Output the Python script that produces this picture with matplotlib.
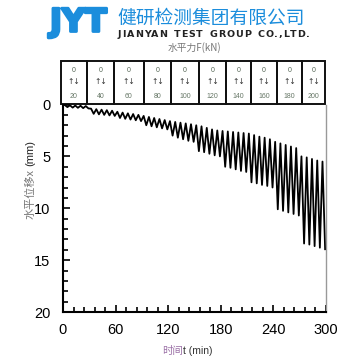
import numpy as np
import matplotlib.pyplot as plt
import matplotlib.patheffects as pe
from matplotlib.patches import Rectangle

plt.rcParams['font.family'] = ['Liberation Sans', 'Noto Sans CJK SC', 'DejaVu Sans']

# 荷载分级 (kN)
loads = [20, 40, 60, 80, 100, 120, 140, 160, 180, 200]

# 每级 5 个循环, 每个循环 6 min
cycle_min = 6
# 每个循环的最小位移 (mm)
x_top = [0.05, 0.08, 0.10, 0.12, 0.15,
         0.40, 0.45, 0.50, 0.55, 0.60,
         0.70, 0.78, 0.85, 0.92, 1.00,
         1.10, 1.20, 1.30, 1.40, 1.50,
         1.60, 1.68, 1.75, 1.82, 1.90,
         2.00, 2.10, 2.25, 2.40, 2.50,
         2.55, 2.60, 2.65, 2.70, 2.75,
         2.80, 2.95, 3.10, 3.20, 3.35,
         3.60, 3.75, 3.90, 4.05, 4.20,
         5.00, 5.10, 5.25, 5.40, 5.50]
# 每个循环的最大位移 (mm)
x_bot = [0.25, 0.30, 0.32, 0.35, 0.38,
         0.90, 0.95, 1.00, 1.05, 1.10,
         1.30, 1.38, 1.45, 1.52, 1.60,
         2.00, 2.10, 2.20, 2.30, 2.40,
         3.00, 3.20, 3.35, 3.50, 3.60,
         4.50, 4.60, 4.75, 4.90, 5.00,
         6.00, 6.10, 6.25, 6.40, 6.50,
         7.50, 7.60, 7.75, 7.85, 8.00,
         10.10, 10.25, 10.40, 10.55, 10.70,
         13.40, 13.50, 13.65, 13.80, 13.95]

# 拼成折线
t = [0.0]
x = [0.0]
for i in range(len(x_top)):
    t += [i * cycle_min + 2, i * cycle_min + 5]
    x += [x_top[i], x_bot[i]]

W = 360.0
def fx(px): return px / W
def fy(py): return 1 - py / W

fig = plt.figure(figsize=(3.6, 3.6), dpi=100)
renderer = fig.canvas.get_renderer()

def spaced_text(px0, px1, py, s, **kw):
    # 逐字放置, 拉开字距
    widths = []
    for ch in s:
        tt = fig.text(0, 0, ch, **kw)
        widths.append(tt.get_window_extent(renderer).width if ch != ' ' else 0)
        tt.remove()
    sp_w = widths[s.index('N')] * 0.6
    widths = [w if ch != ' ' else sp_w for w, ch in zip(widths, s)]
    gap = (px1 - px0 - sum(widths)) / (len(s) - 1)
    cur = px0
    for ch, w in zip(s, widths):
        if ch != ' ':
            fig.text(fx(cur), fy(py), ch, ha='left', va='center', **kw)
        cur += w + gap

# logo
blue = '#1b8ddc'
fig.text(fx(50), fy(23), 'JYT', color=blue, fontsize=23, fontweight='bold',
         ha='left', va='center', family='DejaVu Sans',
         path_effects=[pe.withStroke(linewidth=2, foreground=blue)])
fig.text(fx(117), fy(18), '健研检测集团有限公司', color=blue, fontsize=13.5,
         ha='left', va='center', family='Noto Sans CJK SC')
spaced_text(118, 310, 34.5, 'JIANYAN TEST GROUP CO.,LTD.', color='#222222',
            fontsize=6.8, fontweight='bold', family='DejaVu Sans')

fig.text(fx(194), fy(48), '水平力F(kN)', color='#777777', fontsize=7,
         ha='center', va='center', family='Noto Sans CJK SC')

# 荷载框
edges = [61, 87, 114, 144, 171, 199, 226, 251, 277, 302, 325]
ax_b = fig.add_axes([fx(61), fy(104), fx(325 - 61), fx(104 - 61)])
ax_b.set_xlim(61, 325)
ax_b.set_ylim(104, 61)
ax_b.axis('off')
for k in range(len(loads)):
    x0, x1 = edges[k], edges[k + 1]
    ax_b.add_patch(Rectangle((x0, 61), x1 - x0, 43, fill=False, ec='#111111', lw=1.4,
                             clip_on=False))
    cx = (x0 + x1) / 2
    ax_b.text(cx, 70, '0', fontsize=5, color='#556655', ha='center', va='center')
    ax_b.text(cx, 81, '↑↓', fontsize=5.5, color='#333333', ha='center', va='center',
              family='DejaVu Sans')
    ax_b.text(cx, 97, str(loads[k]), fontsize=5, color='#667766', ha='center', va='center')

# 主图
ax = fig.add_axes([fx(63), fy(312), fx(326 - 63), fx(312 - 104.5)])
ax.plot(t, x, color='black', lw=1.3)
ax.set_xlim(0, 300)
ax.set_ylim(20, 0)
ax.set_xticks([0, 60, 120, 180, 240, 300])
ax.set_yticks([0, 5, 10, 15, 20])
ax.set_xticks(np.arange(0, 301, 12), minor=True)
ax.set_yticks(np.arange(0, 21, 1), minor=True)
ax.tick_params(which='both', direction='in', top=False, right=False, width=1.2,
               labelsize=10.5)
ax.tick_params(which='major', length=5)
ax.tick_params(which='minor', length=3.5)
ax.tick_params(axis='x', pad=8)
ax.tick_params(axis='y', pad=9)
ax.spines['top'].set_visible(False)
ax.spines['left'].set_linewidth(1.5)
ax.spines['bottom'].set_linewidth(1.5)
ax.spines['right'].set_color('#999999')
ax.spines['right'].set_linewidth(1)

fig.text(fx(30), fy(169), '水平位移x', rotation=90, ha='center', va='top',
         color='#777777', fontsize=8, family='Noto Sans CJK SC')
fig.text(fx(30), fy(166), '(mm)', rotation=90, ha='center', va='bottom',
         color='#222222', fontsize=8)
fig.text(fx(183), fy(351), '时间', ha='right', va='center',
         color='#9a6fa6', fontsize=7.5, family='Noto Sans CJK SC')
fig.text(fx(183), fy(351), 't (min)', ha='left', va='center',
         color='#333333', fontsize=7.5)

fig.savefig('out.png', dpi=100)
